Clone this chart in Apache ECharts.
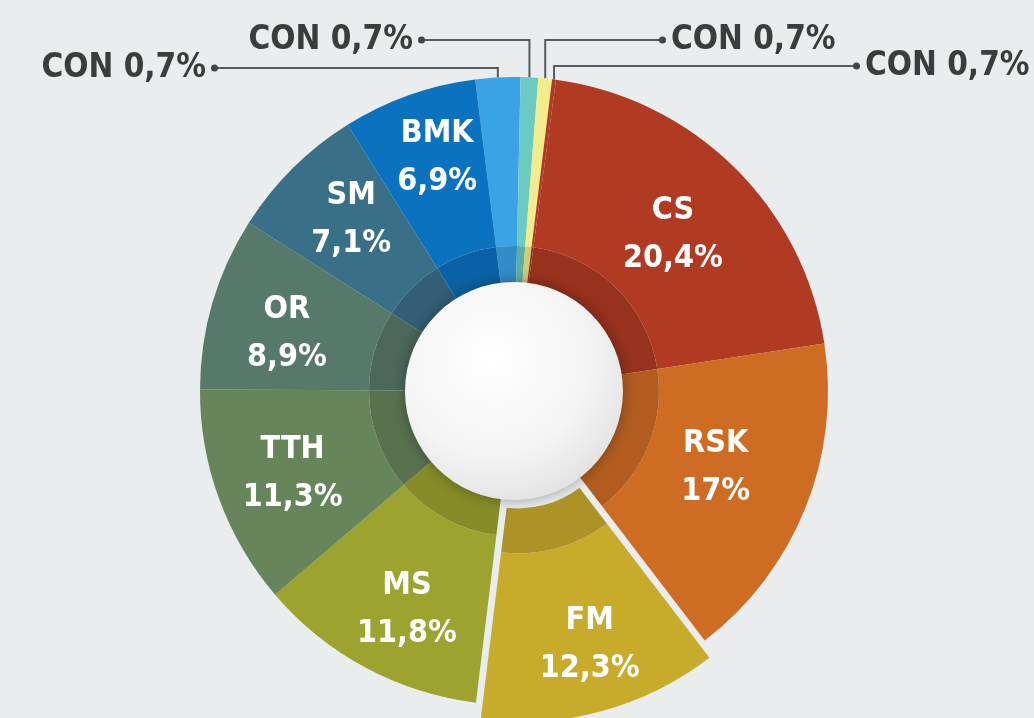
<!DOCTYPE html>
<html>
<head>
<meta charset="utf-8">
<title>Donut</title>
<script src="https://cdn.jsdelivr.net/npm/echarts@6/dist/echarts.min.js"></script>
<style>
  html, body { margin: 0; padding: 0; background: #e9eded; }
  #chart { width: 1034px; height: 718px; }
</style>
</head>
<body>
<div id="chart"></div>
<script>
// slices clockwise from the light blue CON at the top
var categories = ['CON', 'CON', 'CON', 'CON', 'CS', 'RSK', 'FM', 'MS', 'TTH', 'OR', 'SM', 'BMK']
// slice sizes as they appear in the picture
var shares = [2.3, 0.9, 0.7, 0.2, 20.4, 17, 12.3, 11.8, 11.3, 8.9, 7.1, 6.9]
// percentages printed on the labels
var shownShares = [0.7, 0.7, 0.7, 0.7, 20.4, 17, 12.3, 11.8, 11.3, 8.9, 7.1, 6.9]
var colors = ['#3aa3e6', '#6ccbc0', '#f3ec8c', '#b03a22', '#b03a22', '#cf6c24', '#c9ab2c',
  '#9ca32f', '#66855b', '#57796a', '#3a6f88', '#0b72c0']

var FONT = '"DejaVu Sans Condensed", "DejaVu Sans", sans-serif'
var CX = 514
var CY = 391

function darken(hex, k) {
  var n = parseInt(hex.slice(1), 16)
  var r = Math.round(((n >> 16) & 255) * k)
  var g = Math.round(((n >> 8) & 255) * k)
  var b = Math.round((n & 255) * k)
  return 'rgb(' + r + ',' + g + ',' + b + ')'
}

function pct(v) {
  return String(v).replace('.', ',') + '%'
}

// where the outside CON labels sit (dot end of the leader line)
var conSpots = [
  { side: 'left', x: 218, y: 68 },
  { side: 'left', x: 425, y: 40 },
  { side: 'right', x: 659, y: 40 },
  { side: 'right', x: 853, y: 66 }
]
// small shifts for the inside labels
var nudge = {
  CS: [-4, 10], RSK: [-14, -10], FM: [10, 12], MS: [3, 14],
  TTH: [-3, 3], OR: [-4, 8], SM: [1, -6], BMK: [1, -14]
}

var mainData = categories.map(function(name, i) {
  var item = {
    name: name,
    value: shares[i],
    itemStyle: { color: colors[i] }
  }
  if (name === 'FM') item.selected = true
  if (i < 4) {
    var left = conSpots[i].side === 'left'
    item.label = {
      show: true,
      position: 'outside',
      color: '#3c3c3c',
      formatter: left ? '{t|' + name + ' ' + pct(shownShares[i]) + '}{d|}'
        : '{d|}{t|' + name + ' ' + pct(shownShares[i]) + '}',
      rich: {
        t: { fontFamily: FONT, fontSize: 33, fontWeight: 'bold', color: '#3c3c3c', padding: [0, 5, 0, 5] },
        d: { width: 7, height: 7, borderRadius: 4, backgroundColor: '#444' }
      }
    }
    item.labelLine = { show: true, length: 10, length2: 10, lineStyle: { color: '#5a5a5a', width: 2 } }
  }
  return item
})

var ringData = categories.map(function(name, i) {
  return {
    name: name,
    value: shares[i],
    selected: name === 'FM',
    itemStyle: { color: darken(colors[i], 0.86) }
  }
})

var chart = echarts.init(document.getElementById('chart'))
chart.setOption({
  backgroundColor: '#e9eded',
  animation: false,
  series: [
    {
      type: 'pie',
      center: [CX, CY],
      radius: [145, 314],
      startAngle: 97.1,
      selectedMode: 'single',
      selectedOffset: 18,
      avoidLabelOverlap: false,
      emphasis: { scale: false },
      itemStyle: { borderWidth: 0 },
      label: {
        show: true,
        position: 'inside',
        fontFamily: FONT,
        fontSize: 32,
        fontWeight: 'bold',
        lineHeight: 48,
        color: '#fff',
        formatter: function(p) {
          return p.name + '\n' + pct(shownShares[p.dataIndex])
        }
      },
      labelLine: { show: false },
      labelLayout: function(params) {
        var i = params.dataIndex
        if (i > 3) {
          var d = nudge[categories[i]] || [0, 0]
          return { dx: d[0], dy: d[1] }
        }
        var spot = conSpots[i]
        var p0 = params.labelLinePoints ? params.labelLinePoints[0]
          : [params.rect.x + params.rect.width / 2, params.rect.y]
        var dotX = spot.side === 'left' ? spot.x - 4 : spot.x + 4
        return {
          x: spot.x,
          y: spot.y,
          align: spot.side === 'left' ? 'right' : 'left',
          verticalAlign: 'middle',
          labelLinePoints: [[p0[0], p0[1]], [p0[0], spot.y], [dotX, spot.y]]
        }
      },
      data: mainData
    },
    {
      type: 'pie',
      center: [CX, CY],
      radius: [100, 145],
      startAngle: 97.1,
      selectedMode: 'single',
      selectedOffset: 18,
      silent: true,
      itemStyle: { borderWidth: 0 },
      label: { show: false },
      labelLine: { show: false },
      data: ringData
    },
    {
      type: 'pie',
      center: [CX, CY],
      radius: [0, 109],
      silent: true,
      label: { show: false },
      labelLine: { show: false },
      itemStyle: {
        borderWidth: 0,
        color: {
          type: 'radial', x: 0.4, y: 0.35, r: 0.75,
          colorStops: [
            { offset: 0, color: '#ffffff' },
            { offset: 0.6, color: '#f4f4f4' },
            { offset: 1, color: '#dedede' }
          ]
        },
        shadowBlur: 14,
        shadowColor: 'rgba(0,0,0,0.35)'
      },
      data: [{ name: 'hole', value: 1 }]
    }
  ]
})
</script>
</body>
</html>
